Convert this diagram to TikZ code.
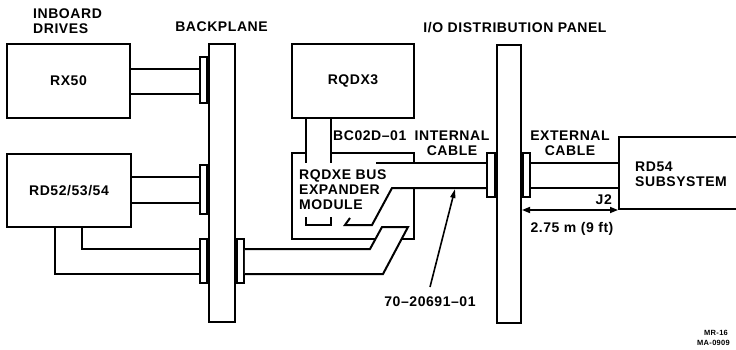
\documentclass[tikz,border=0pt]{standalone}
\usepackage{fontspec}
\setmainfont[LetterSpace=4]{Liberation Sans}
\usetikzlibrary{positioning,arrows.meta,calc}
\newcommand{\dectext}{\fontsize{14}{15}\selectfont\bfseries}
\newcommand{\tinytext}{\fontsize{7.5}{9}\selectfont\bfseries}
\tikzset{
  unit/.style={rectangle, draw, line width=2pt, inner sep=0pt,
               minimum width=123pt, minimum height=74pt, font=\dectext},
  board/.style={rectangle, draw, line width=2pt, inner sep=0pt,
                minimum width=25pt, minimum height=278pt},
  plug/.style={rectangle, draw, line width=1.8pt, fill=white, inner sep=0pt,
               minimum width=7pt, minimum height=44pt},
  wire/.style={line width=2pt},
  note/.style={inner sep=0pt, font=\dectext, align=left},
  dim/.style={line width=1.6pt,
              {Triangle[length=8pt,width=6pt]}-{Triangle[length=8pt,width=6pt]}},
  pointer/.style={line width=1.6pt, -{Triangle[length=9pt,width=5pt]}}
}
\begin{document}
\begin{tikzpicture}[x=1pt, y=-1pt]
\path[use as bounding box, clip] (0,0) rectangle (736,350);

\node[unit] (rx50) at (68.5,81) {RX50};
\node[unit, minimum width=124pt, minimum height=73pt] (rd52) at (69,190.5) {RD52/53/54};
\node[unit, minimum width=122pt] (rqdx3) at (353,81) {RQDX3};
\node[board, minimum width=26pt] (backplane) at (222,183) {};
\node[board, minimum width=24pt] (iopanel) at (509,184) {};
\node[unit, minimum width=141pt, minimum height=72pt] (rd54) at (689.5,173) {};

\node[plug, anchor=east, minimum height=46pt] (bp1) at (backplane.west |- 0,80) {};
\node[plug, anchor=east, minimum height=49pt] (bp2) at (backplane.west |- 0,189.5) {};
\node[plug, anchor=east] (bp3) at (backplane.west |- 0,261) {};
\node[plug, anchor=west] (bp4) at (backplane.east |- 0,261) {};
\node[plug, anchor=east, minimum width=8pt] (io1) at (iopanel.west |- 0,175) {};
\node[plug, anchor=west] (io2) at (iopanel.east |- 0,175) {};

\node[note, anchor=north west] at (33,8.5) {INBOARD\\DRIVES};
\node[note, anchor=base] at (221.5,32) {BACKPLANE};
\node[note, anchor=base] at (515,33) {I/O DISTRIBUTION PANEL};
\node[note, anchor=base west] at (333,140) {BC02D--01};
\node[note, anchor=north, align=center] at (452,131) {INTERNAL\\CABLE};
\node[note, anchor=north, align=center] at (570,131) {EXTERNAL\\CABLE};
\node[note, anchor=north west] (rqdxe) at (299,169.5) {RQDXE BUS\\EXPANDER\\MODULE};
\node[note, anchor=north west] at ([xshift=17pt, yshift=-26pt]rd54.north west) {RD54\\SUBSYSTEM};
\node[note, anchor=base east] at ([xshift=-6pt, yshift=6pt]rd54.south west) {J2};

\draw[wire] ([yshift=12pt]rx50.east) -- ([yshift=12pt]rx50.east -| bp1.west);
\draw[wire] ([yshift=-13pt]rx50.east) -- ([yshift=-13pt]rx50.east -| bp1.west);
\draw[wire] ([yshift=14pt]rd52.east) -- ([yshift=14pt]rd52.east -| bp2.west);
\draw[wire] ([yshift=-12pt]rd52.east) -- ([yshift=-12pt]rd52.east -| bp2.west);
\draw[wire] ([xshift=13pt]rd52.south) |- ([yshift=12pt]bp3.west);
\draw[wire] ([xshift=-14pt]rd52.south) |- ([yshift=-13pt]bp3.west);

\draw[wire] (306,153) -- (292,153) -- (292,239) -- (414,239) -- (414,188);
\draw[wire] (331,153) -- (414,153) -- (414,163);
\draw[wire] ([xshift=-47pt]rqdx3.south) -- +(0,44);
\draw[wire] ([xshift=-22pt]rqdx3.south) -- +(0,44);
\draw[wire] (306,217) -- (306,225) -- (331,225) -- (331,217);

\draw[wire, fill=white] ([yshift=12pt]bp4.east) -- (370,249) -- (382,227)
  -- (408,227) -- (383,274) -- ([yshift=-13pt]bp4.east);

\draw[wire] (376,163) -- ([yshift=12pt]io1.west);
\draw[wire] ([yshift=-13pt]io1.west) -- (392,188) -- (372,225) -- (345,225) -- (350,218);

\draw[wire] ([yshift=12pt]io2.east) -- ([yshift=12pt]io2.east -| rd54.west);
\draw[wire] ([yshift=-13pt]io2.east) -- ([yshift=-13pt]io2.east -| rd54.west);

\draw[dim] (iopanel.east |- rd54.south west) -- (rd54.south west);
\node[note, anchor=base] at (572,232) {2.75 m (9 ft)};

\coordinate (tap) at (455,189);
\node[note, anchor=base] (partno) at (430,306) {70--20691--01};
\draw[pointer] ([yshift=9pt]partno.north) -- (tap);

\node[note, font=\tinytext, anchor=base west] at (704,335) {MR-16};
\node[note, font=\tinytext, anchor=base west] at (697,345) {MA-0909};
\end{tikzpicture}
\end{document}
